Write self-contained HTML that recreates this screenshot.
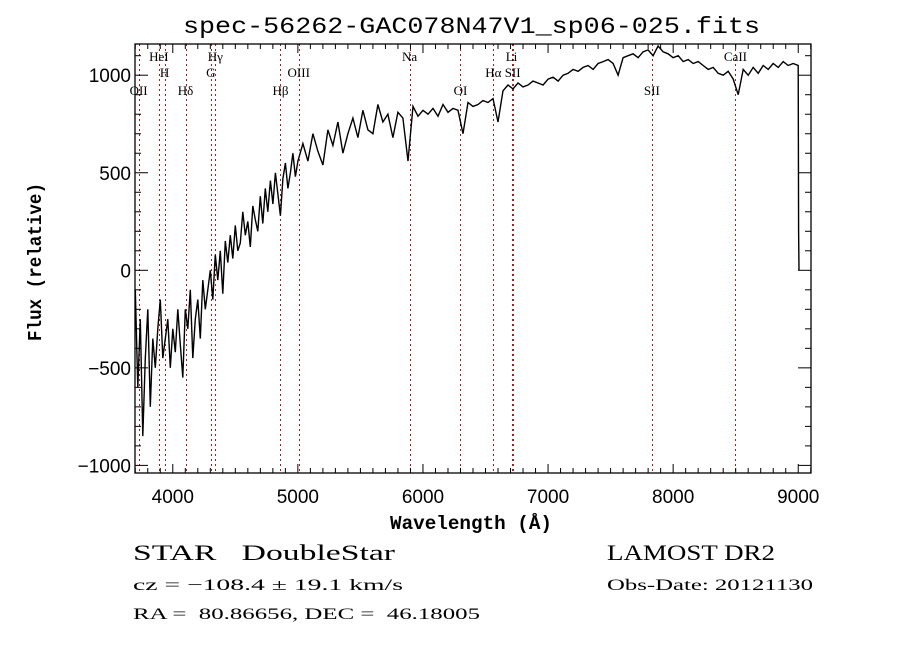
<!DOCTYPE html>
<html><head><meta charset="utf-8"><style>
html,body{margin:0;padding:0;background:#fff;}
svg{display:block;}
text{font-family:"Liberation Sans",sans-serif;fill:#000;white-space:pre;}
</style></head>
<body>
<svg id="chart" width="900" height="649" viewBox="0 0 900 649" xml:space="preserve">
<rect x="0" y="0" width="900" height="649" fill="#fff"/>
<text x="183" y="33" font-size="23" textLength="577" lengthAdjust="spacingAndGlyphs" style="font-family:'Liberation Mono',monospace">spec-56262-GAC078N47V1_sp06-025.fits</text>
<g id="lines"></g>
<g id="series"></g>
<g id="axes"></g>
<text x="390" y="529" font-size="19" font-weight="bold" textLength="162" lengthAdjust="spacingAndGlyphs" style="font-family:'Liberation Mono',monospace">Wavelength (Å)</text>
<text transform="translate(41,341) rotate(-90)" font-size="19" font-weight="bold" textLength="158" lengthAdjust="spacingAndGlyphs" style="font-family:'Liberation Mono',monospace">Flux (relative)</text>
<text x="133" y="560" font-size="22" textLength="262" lengthAdjust="spacingAndGlyphs" style="font-family:'Liberation Serif',serif">STAR   DoubleStar</text>
<text x="607" y="560" font-size="22" textLength="168" lengthAdjust="spacingAndGlyphs" style="font-family:'Liberation Serif',serif">LAMOST DR2</text>
<text x="133" y="590" font-size="16" textLength="270" lengthAdjust="spacingAndGlyphs" style="font-family:'Liberation Serif',serif">cz = −108.4 ± 19.1 km/s</text>
<text x="607" y="590" font-size="16" textLength="206" lengthAdjust="spacingAndGlyphs" style="font-family:'Liberation Serif',serif">Obs-Date: 20121130</text>
<text x="133" y="619" font-size="16" textLength="347" lengthAdjust="spacingAndGlyphs" style="font-family:'Liberation Serif',serif">RA =  80.86656, DEC =  46.18005</text>
</svg>
<script>
const waves = [3700,3720,3740,3760,3780,3800,3820,3840,3860,3880,
3900,3920,3940,3960,3980,4000,4020,4040,4060,4080,
4100,4120,4140,4160,4180,4200,4220,4240,4260,4280,
4300,4320,4340,4360,4380,4400,4420,4440,4460,4480,
4500,4520,4540,4560,4580,4600,4620,4640,4660,4680,
4700,4720,4740,4760,4780,4800,4820,4840,4860,4880,
4900,4920,4940,4960,4980,5000,
5040,5080,5120,5160,5200,5240,5280,5320,5360,5400,
5440,5480,5520,5560,5600,5640,5680,5720,5760,5800,
5840,5880,5920,5960,6000,6040,6080,6120,6160,6200,
6240,6280,6320,6360,6400,6440,6480,6520,6560,6600,
6640,6680,6720,6760,6800,6840,6880,6920,6960,7000,
7040,7080,7120,7160,7200,7240,7280,7320,7360,7400,
7440,7480,7520,7560,7600,7640,7680,7720,7760,7800,
7840,7880,7920,7960,8000,8040,8080,8120,8160,8200,
8240,8280,8320,8360,8400,8440,8480,8520,8560,8600,
8640,8680,8720,8760,8800,8840,8880,8920,8960,9000,
9003,9006];
const flux = [-100,-600,-250,-850,-450,-200,-700,-350,-500,-300,
-150,-450,-350,-250,-500,-300,-420,-200,-380,-550,
-200,-300,-100,-450,-250,-150,-350,-50,-200,-100,
0,-150,80,-50,100,-120,150,40,180,60,
230,100,140,300,180,250,120,330,260,200,
380,240,420,300,460,340,500,390,280,470,
550,420,500,600,480,560,
650,560,700,610,540,720,640,760,600,700,
780,680,820,720,700,850,760,800,680,810,
780,560,840,790,820,800,830,790,850,810,
830,820,700,860,840,850,870,860,880,760,
920,950,930,960,940,950,970,960,950,980,
990,970,1000,1010,1030,1020,1040,1050,1030,1060,
1070,1080,1060,1000,1090,1100,1110,1090,1120,1130,
1100,1150,1120,1110,1090,1100,1070,1080,1060,1070,
1050,1030,1040,1010,1000,1020,980,900,1030,1000,
1040,1010,1050,1030,1060,1040,1070,1050,1060,1050,
200,0];
const lineWaves = [3727,3889,3934,4102,4304,4340,4861,5007,5893,6300,6563,6708,6717,7830,8498];
const lineNames = ["OII","HeI","H","Hδ","G","Hγ","Hβ","OIII","Na","OI","Hα","Li","SII","SII","CaII"];
const lineRows = [3,1,2,3,2,1,3,2,1,3,2,1,2,3,1];
const xTicks = [4000,5000,6000,7000,8000,9000];
const yTicks = [-1000,-500,0,500,1000];

const X0=135,X1=811,Y0=44,Y1=473;
const W0=3698,W1=9102,F0=-1039,F1=1160;
function xs(w){return X0+(w-W0)/(W1-W0)*(X1-X0);}
function ys(f){return Y1-(f-F0)/(F1-F0)*(Y1-Y0);}
const NS="http://www.w3.org/2000/svg";
function mk(tag,attrs,parent){const e=document.createElementNS(NS,tag);for(const k in attrs)e.setAttribute(k,attrs[k]);parent.appendChild(e);return e;}

const lg=document.getElementById('lines');
const rowY=[0,61,77,95];
lineWaves.forEach((w,i)=>{
  const px=Math.round(xs(w))+0.5;
  const l=mk('line',{x1:px,x2:px,y1:Y0,y2:Y1,stroke:'#a02020','stroke-width':1,'stroke-dasharray':'2,3'},lg);
  
  
  const t=mk('text',{x:xs(w),y:rowY[lineRows[i]],'font-size':13,'text-anchor':'middle',style:"font-family:'Liberation Serif',serif"},lg);
  t.textContent=lineNames[i];
  
  
});

const sg=document.getElementById('series');
const pts=waves.map((w,i)=>xs(w).toFixed(1)+','+ys(flux[i]).toFixed(1)).join(' ');
const pl=mk('polyline',{points:pts,fill:'none',stroke:'#000','stroke-width':1.4,'stroke-linejoin':'miter'},sg);



const ag=document.getElementById('axes');
const box=mk('rect',{x:X0,y:Y0,width:X1-X0,height:Y1-Y0,fill:'none',stroke:'#000','stroke-width':1.3},ag);


for(let w=3700;w<=9100;w+=100){
  const maj=(w%1000===0), len=maj?9:5, x=xs(w);
  mk('line',{x1:x,x2:x,y1:Y1,y2:Y1-len,stroke:'#000','stroke-width':1},ag);
  mk('line',{x1:x,x2:x,y1:Y0,y2:Y0+len,stroke:'#000','stroke-width':1},ag);
}
xTicks.forEach(w=>{
  const t=mk('text',{x:xs(w),y:503,'font-size':19,'text-anchor':'middle'},ag);
  t.textContent=w;
  
  
});
for(let f=-1000;f<=1100;f+=100){
  const maj=(f%500===0), len=maj?13:6, y=ys(f);
  mk('line',{x1:X0,x2:X0+len,y1:y,y2:y,stroke:'#000','stroke-width':1},ag);
  mk('line',{x1:X1,x2:X1-len,y1:y,y2:y,stroke:'#000','stroke-width':1},ag);
}
yTicks.forEach(f=>{
  const t=mk('text',{x:131,y:ys(f)+7,'font-size':19,'text-anchor':'end'},ag);
  t.textContent=f<0?'−'+Math.abs(f):f;
  
  
});
</script>
</body></html>
